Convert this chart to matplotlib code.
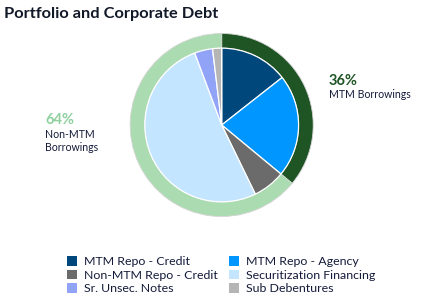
import matplotlib
matplotlib.use("Agg")
import matplotlib.pyplot as plt

# inner pie: debt components (% of total)
categories = ['MTM Repo - Credit', 'MTM Repo - Agency', 'Non-MTM Repo - Credit',
              'Securitization Financing', 'Sr. Unsec. Notes', 'Sub Debentures']
shares = [14.4, 21.6, 6.8, 51.5, 3.8, 1.9]
inner_colors = ['#00477b', '#0096ff', '#6b6b6b', '#c3e5ff', '#91a3f6', '#b5b5b5']

# outer ring: MTM vs non-MTM borrowings
ring_labels = ['MTM Borrowings', 'Non-MTM\nBorrowings']
ring_shares = [36, 64]
ring_colors = ['#1f5425', '#abdcb1']
ring_text_colors = ['#1f5425', '#8fd19e']

plt.rcParams['font.family'] = ['Lato', 'DejaVu Sans']

W, H = 433, 298
fig = plt.figure(figsize=(W / 100, H / 100), dpi=100)

cx, cy, r = 221.7, 125.0, 91.5
ax = fig.add_axes([(cx - r) / W, (H - cy - r) / H, 2 * r / W, 2 * r / H])

ax.pie(ring_shares, radius=1.0, colors=ring_colors, startangle=90, counterclock=False,
       wedgeprops=dict(width=0.16, edgecolor='#d4d4d4', linewidth=0.6))
wedges, _ = ax.pie(shares, radius=0.84, colors=inner_colors, startangle=90,
                   counterclock=False,
                   wedgeprops=dict(edgecolor='white', linewidth=0.9))
# pie() resets the limits, so set them afterwards
ax.set_xlim(-1, 1)
ax.set_ylim(-1, 1)
ax.set_aspect('equal')
ax.axis('off')

# title
fig.text(4 / W, 1 - 18.3 / H, 'Portfolio and Corporate Debt', fontsize=11.8,
         fontweight='bold', color='#111827', va='baseline', ha='left')

# ring annotations
fig.text(329 / W, 1 - 85 / H, f'{ring_shares[0]}%', fontsize=10.5, fontweight='bold',
         color=ring_text_colors[0], va='baseline')
fig.text(329 / W, 1 - 97.5 / H, ring_labels[0], fontsize=7.6, color='#141b3a',
         va='baseline')
fig.text(45 / W, 1 - 124 / H, f'{ring_shares[1]}%', fontsize=10.5, fontweight='bold',
         color=ring_text_colors[1], va='baseline')
fig.text(45 / W, 1 - 129.5 / H, ring_labels[1], fontsize=7.6, color='#141b3a',
         va='top', linespacing=1.15)

# legend, row-major order as in the reference
order = [0, 2, 4, 1, 3, 5]
leg = fig.legend([wedges[i] for i in order], [categories[i] for i in order],
                 ncol=2, loc='upper left', bbox_to_anchor=(58 / W, 1 - 247.5 / H),
                 frameon=False, fontsize=8.9, handlelength=0.8, handleheight=0.8,
                 handletextpad=0.6, columnspacing=0.9, labelspacing=0.2,
                 borderpad=0.2)
for t in leg.get_texts():
    t.set_color('#141b3a')
for h in leg.legend_handles:
    h.set_edgecolor('none')

fig.savefig('out.png', dpi=100, facecolor='white')
